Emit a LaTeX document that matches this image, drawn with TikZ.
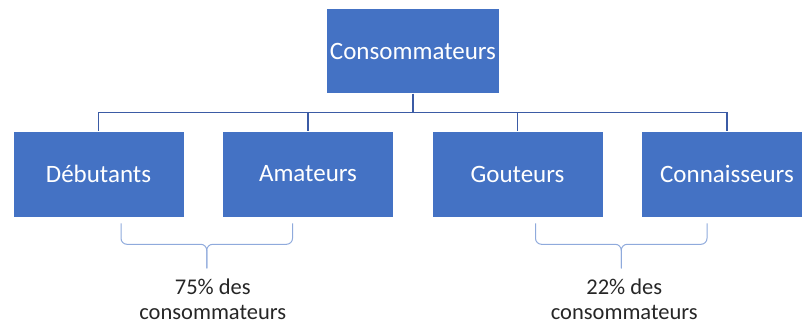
\documentclass[tikz,border=0pt]{standalone}
\usepackage{fontspec}
\setmainfont{Carlito}
\usepackage{tikz}
\usetikzlibrary{positioning, calc}
\definecolor{boxblue}{HTML}{4472C4}
\definecolor{linkblue}{HTML}{3B5BA5}
\definecolor{braceblue}{HTML}{8FAADC}
\definecolor{txtgray}{HTML}{262626}

\begin{document}
\begin{tikzpicture}[x=1pt, y=1pt, node distance=209.5pt]
        % Styles
        \tikzstyle{block} = [draw=white, line width=0.6pt, fill=boxblue, text=white, rectangle, minimum width=171pt, minimum height=86pt, font=\fontsize{25}{28}\selectfont]
        \tikzstyle{link} = [draw=linkblue, line width=1.2pt]
        \tikzstyle{accol} = [draw=braceblue, line width=1pt, rounded corners=6pt]
        \tikzstyle{note} = [text=txtgray, align=center, font=\fontsize{22.5}{25}\selectfont]

        % Cadre
        \useasboundingbox[clip] (0,0) rectangle (802,324);

        % Noeuds - racine et categories
        \node [block, minimum width=172pt, minimum height=85pt] (conso) at (413,273) {Consommateurs};
        \node [block] (deb) at (98.5,150) {Débutants};
        \node [block, right of=deb] (ama) {Amateurs};
        \node [block, right of=ama] (gout) {Gouteurs};
        \node [block, right of=gout] (conn) {Connaisseurs};

        % Liaisons de l'arbre
        \draw [link] (conso.south) -- ++(0,-19) -| (deb.north);
        \draw [link] (conso.south) -- ++(0,-19) -| (ama.north);
        \draw [link] (conso.south) -- ++(0,-19) -| (gout.north);
        \draw [link] (conso.south) -- ++(0,-19) -| (conn.north);

        % Accolade gauche
        \coordinate (accA1) at ($(deb.south)+(22.5,-6)$);
        \coordinate (accA2) at ($(ama.south)+(-15.5,-6)$);
        \coordinate (tipA) at ($(accA1)!0.5!(accA2)+(0,-21)$);
        \draw [accol] (accA1) |- (tipA) -- ++(0,-24);
        \draw [accol] (accA2) |- (tipA) -- ++(0,-24);
        \node [note, below=1pt of tipA, yshift=-30pt, xshift=6pt] (partA) {75\% des\\consommateurs};

        % Accolade droite
        \coordinate (accB1) at ($(gout.south)+(18,-6)$);
        \coordinate (accB2) at ($(conn.south)+(-20,-6)$);
        \coordinate (tipB) at ($(accB1)!0.5!(accB2)+(0,-21)$);
        \draw [accol] (accB1) |- (tipB) -- ++(0,-24);
        \draw [accol] (accB2) |- (tipB) -- ++(0,-24);
        \node [note, below=1pt of tipB, yshift=-30pt, xshift=3pt] (partB) {22\% des\\consommateurs};
\end{tikzpicture}
\end{document}
